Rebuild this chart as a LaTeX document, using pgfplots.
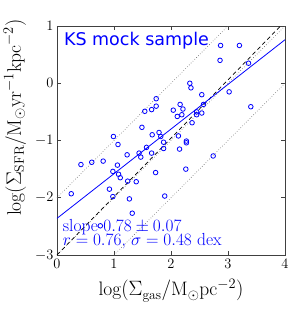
\documentclass[border=0pt]{standalone}
\usepackage{pgfplots}
\pgfplotsset{compat=1.18}
\usepackage{fontspec}
\newfontfamily\dejavu{DejaVu Sans}
\usepackage{amssymb}
\begin{document}
\begin{tikzpicture}
\useasboundingbox (-57pt,-56pt) rectangle (238pt,255pt);
\begin{axis}[
  at={(0,0)}, anchor=south west,
  scale only axis, width=228pt, height=229pt,
  xmin=0, xmax=4, ymin=-3, ymax=1,
  xtick={0,1,2,3,4}, ytick={-3,-2,-1,0,1},
  tick align=inside, major tick length=4pt,
  minor tick num=0,
  axis line style={black!75, line width=0.8pt},
  tick style={black!75, line width=0.6pt},
  tick label style={font=\fontsize{15}{15}\selectfont},
  xticklabel style={yshift=-1pt},
  xlabel={$\log(\Sigma_{\mathrm{gas}}/\mathrm{M}_\odot\mathrm{pc}^{-2})$},
  ylabel={$\log(\Sigma_{\mathrm{SFR}}/\mathrm{M}_\odot\mathrm{yr}^{-1}\mathrm{kpc}^{-2})$},
  label style={font=\fontsize{19.5}{19.5}\selectfont},
  xlabel style={at={(axis description cs:0.5,-0.09)}, anchor=north},
  ylabel style={at={(axis description cs:-0.185,0.6)}, anchor=center},
  clip=true,
]
% dotted lines
\addplot[gray!80!black, dotted, line width=0.6pt] coordinates {(0,-2) (3,1)};
\addplot[gray!80!black, dotted, line width=0.6pt] coordinates {(0,-3) (4,1)};
\addplot[gray!80!black, dotted, line width=0.6pt] coordinates {(1,-3) (4,0)};
% dashed
\addplot[black, dash pattern=on 4pt off 3pt, line width=0.7pt] coordinates {(0,-3.0) (4,1.08)};
% fit
\addplot[blue, line width=0.8pt] coordinates {(0,-2.36) (4,0.76)};
% data
\addplot[only marks, mark=o, mark size=2.3pt, blue, mark options={line width=0.8pt}] coordinates {
(0.25,-1.93) (0.42,-1.42) (0.61,-1.38) (0.81,-1.36) (0.99,-0.93)
(1.07,-1.07) (0.98,-1.54) (1.06,-1.43) (1.08,-1.59) (1.11,-1.65)
(0.92,-1.85) (0.98,-1.98) (1.23,-1.25) (1.24,-1.71) (1.27,-2.02)
(1.32,-2.27) (1.39,-1.72) (1.49,-0.77) (1.47,-1.29) (1.44,-1.22)
(1.57,-1.12) (1.54,-0.49) (1.66,-0.46) (1.74,-0.27) (1.74,-0.40)
(1.67,-0.90) (1.66,-1.22) (1.73,-1.56) (1.79,-0.86) (1.82,-0.93)
(1.87,-1.03) (1.87,-1.14) (1.89,-1.97) (2.04,-0.47) (2.11,-0.58)
(2.16,-0.37) (2.21,-0.45) (2.19,-0.55) (2.13,-0.92) (2.15,-1.15)
(2.26,-1.50) (2.27,-1.01) (2.27,-1.04) (2.33,0.00) (2.35,-0.08)
(2.37,-0.69) (2.45,-0.50) (2.45,-0.55) (2.54,-0.20) (2.54,-0.52)
(2.57,-0.37) (2.74,-1.27) (2.87,0.66) (2.86,0.40) (3.20,0.66)
(3.02,-0.15) (3.36,0.35) (3.40,-0.41) (0.76,-2.49)
};
\node[anchor=north west, blue, font=\dejavu\fontsize{17.5}{17.5}\selectfont, inner sep=0pt] at (axis description cs:0.03,0.975) {KS mock sample};
\node[anchor=south west, blue, font=\fontsize{17.5}{17.5}\selectfont, inner sep=0pt, align=left] at (axis description cs:0.025,0.025) {slope $0.78\pm0.07$\\[-3pt] $r=0.76$, $\sigma=0.48$ dex};
\end{axis}
\end{tikzpicture}
\end{document}
